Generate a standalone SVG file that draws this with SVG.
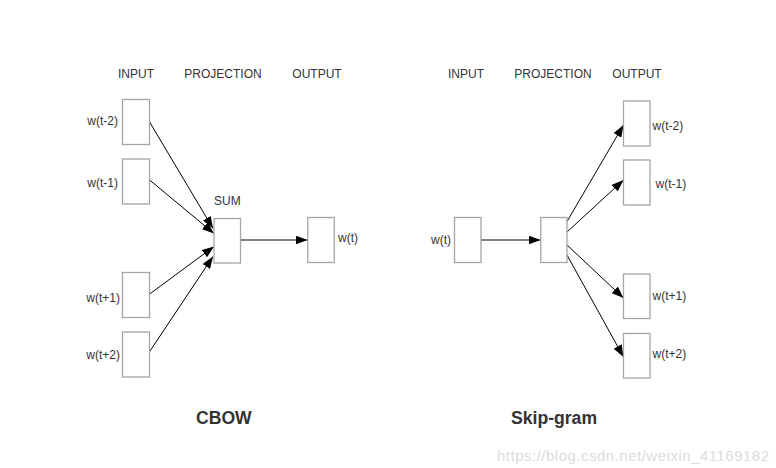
<svg xmlns="http://www.w3.org/2000/svg" width="776" height="468" viewBox="0 0 776 468">
<defs>
<marker id="ah" markerUnits="userSpaceOnUse" markerWidth="12" markerHeight="9" refX="12" refY="4.5" orient="auto"><path d="M0,0 L12,4.5 L0,9 z" fill="#000"/></marker>
<style>
.box{fill:#fff;stroke:#a6a6a6;stroke-width:1.3}
.t{font-family:"Liberation Sans",Arial,sans-serif;font-size:12px;fill:#333}
.h{font-family:"Liberation Sans",Arial,sans-serif;font-size:12px;fill:#333;text-anchor:middle}
.title{font-family:"Liberation Sans",Arial,sans-serif;font-size:17.6px;font-weight:bold;fill:#333}
.c{stroke:#000;stroke-width:1;fill:none;marker-end:url(#ah)}
</style>
</defs>
<rect width="776" height="468" fill="#fff"/>
<g id="headers">
<text class="h" x="136" y="78">INPUT</text>
<text class="h" x="223" y="78">PROJECTION</text>
<text class="h" x="317" y="78">OUTPUT</text>
<text class="h" x="466" y="78">INPUT</text>
<text class="h" x="553" y="78">PROJECTION</text>
<text class="h" x="637" y="78">OUTPUT</text>
</g>
<g id="connectors">
<line class="c" x1="149" y1="121" x2="213" y2="228.5"/>
<line class="c" x1="149" y1="179.5" x2="214" y2="233.5"/>
<line class="c" x1="149" y1="294.5" x2="214" y2="246.5"/>
<line class="c" x1="149" y1="352.5" x2="213" y2="256.5"/>
<line class="c" x1="240.5" y1="240" x2="307.5" y2="240"/>
<line class="c" x1="480.5" y1="240" x2="540.5" y2="240"/>
<line class="c" x1="567" y1="221.5" x2="623.5" y2="125"/>
<line class="c" x1="567" y1="232" x2="623.5" y2="180"/>
<line class="c" x1="567" y1="245" x2="623.5" y2="298"/>
<line class="c" x1="567" y1="255" x2="623.5" y2="357"/>
</g>
<g id="cbow-in-t-2"><rect class="box" x="122.5" y="99.5" width="27" height="45"/><text class="t" x="118" y="125" text-anchor="end">w(t-2)</text></g>
<g id="cbow-in-t-1"><rect class="box" x="122.5" y="159" width="27" height="45"/><text class="t" x="118" y="186.5" text-anchor="end">w(t-1)</text></g>
<g id="cbow-in-t+1"><rect class="box" x="122.5" y="272.5" width="27" height="45"/><text class="t" x="120" y="301.5" text-anchor="end">w(t+1)</text></g>
<g id="cbow-in-t+2"><rect class="box" x="122.5" y="332" width="27" height="45"/><text class="t" x="120" y="358.5" text-anchor="end">w(t+2)</text></g>
<g id="cbow-sum"><rect class="box" x="214" y="218.5" width="26.5" height="44.5"/><text class="t" x="214" y="205">SUM</text></g>
<g id="cbow-out"><rect class="box" x="307.8" y="217.5" width="26.5" height="45"/><text class="t" x="338" y="242">w(t)</text></g>
<g id="sg-in"><rect class="box" x="454.5" y="217.5" width="26.5" height="45"/><text class="t" x="451" y="244" text-anchor="end">w(t)</text></g>
<g id="sg-proj"><rect class="box" x="540.8" y="217.5" width="26.2" height="45"/></g>
<g id="sg-out-t-2"><rect class="box" x="623.5" y="101" width="26.5" height="45"/><text class="t" x="652.5" y="130">w(t-2)</text></g>
<g id="sg-out-t-1"><rect class="box" x="623.5" y="160" width="26.5" height="45"/><text class="t" x="655.5" y="187.5">w(t-1)</text></g>
<g id="sg-out-t+1"><rect class="box" x="623.5" y="274" width="26.5" height="44.5"/><text class="t" x="652.5" y="300">w(t+1)</text></g>
<g id="sg-out-t+2"><rect class="box" x="623.5" y="333.5" width="26.5" height="44.5"/><text class="t" x="652.5" y="358">w(t+2)</text></g>
<g id="titles">
<text class="title" x="196" y="424">CBOW</text>
<text class="title" x="511" y="424">Skip-gram</text>
<text x="497" y="461" font-family="'Liberation Sans',Arial,sans-serif" font-size="15" fill="#dcdcdc" textLength="272">https://blog.csdn.net/weixin_41169182</text>
</g>
</svg>
